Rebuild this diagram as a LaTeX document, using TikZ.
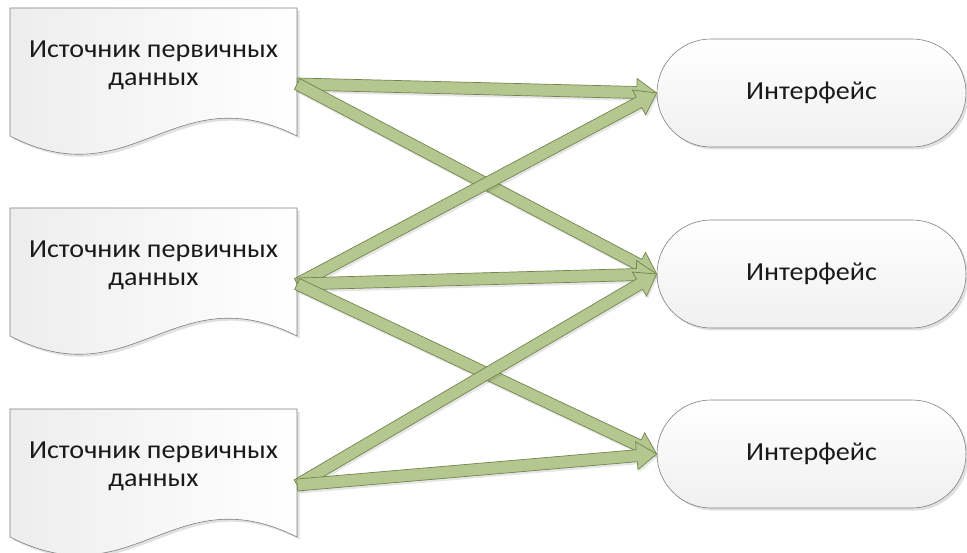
\documentclass[tikz,border=0pt]{standalone}
\usepackage{fontspec}
\setmainfont{Carlito}[FakeStretch=1.08]
\usetikzlibrary{calc,shapes.misc,shadows}

\definecolor{arrowfill}{HTML}{B4C78E}
\definecolor{arrowline}{HTML}{74834F}
\definecolor{shapeline}{HTML}{7F7F7F}
\definecolor{inktext}{HTML}{1A1A1A}

% wide block arrow from #1 to #2: shaft half-width 6pt, head 20pt long, 14pt half-width
\newcommand\blockarrow[2]{%
  \coordinate (ba-n) at ($(#2)!20pt!(#1)$);
  \draw[flowarrow]
    ($(#1)!6pt!90:(#2)$) -- ($(ba-n)!6pt!90:(#2)$) -- ($(ba-n)!14pt!90:(#2)$)
    -- (#2)
    -- ($(ba-n)!14pt!-90:(#2)$) -- ($(ba-n)!6pt!-90:(#2)$) -- ($(#1)!6pt!-90:(#2)$)
    -- cycle;
}

\begin{document}
\begin{tikzpicture}[x=1pt,y=-1pt,
  softshadow/.style={drop shadow={shadow xshift=2.5pt,shadow yshift=-2.5pt,opacity=0.12,fill=black}},
  docshape/.style={draw=shapeline,line width=0.6pt,left color=black!7,right color=white,softshadow},
  docnode/.style={rectangle,minimum width=287pt,minimum height=152pt,inner sep=0pt},
  doctext/.style={align=center,inner sep=0pt,text=inktext,font=\fontsize{26}{28}\selectfont},
  term/.style={rounded rectangle,draw=shapeline,line width=0.6pt,top color=white,bottom color=black!6,
    minimum width=309pt,minimum height=108pt,inner sep=0pt,text=inktext,
    font=\fontsize{26}{28}\selectfont,softshadow},
  flowarrow/.style={draw=arrowline,line width=0.7pt,fill=arrowfill,line join=miter,
    drop shadow={shadow xshift=1.5pt,shadow yshift=-2.5pt,opacity=0.10,fill=black}}
]
\useasboundingbox (0,0) rectangle (967,553);

% source documents with a wavy bottom edge
\foreach \i/\y in {1/84,2/284,3/485}{
  \begin{scope}[shift={(153.5,\y)}]
    \path[docshape] (-143.5,-76) -- (143.5,-76) -- (143.5,52)
      .. controls (20,-10) and (-20,115) .. (-143.5,52) -- cycle;
    \node[docnode] (d\i) at (0,0) {};
    \node[doctext] (d\i-label) at (0,-19) {Источник первичных\\данных};
  \end{scope}
}

% interface terminators
\node[term] (t1) at (811.5,93)  {Интерфейс};
\node[term] (t2) at (811.5,274) {Интерфейс};
\node[term] (t3) at (811.5,454) {Интерфейс};

% data flows
\blockarrow{d1.east}{t1.west}
\blockarrow{d1.east}{t2.west}
\blockarrow{d2.east}{t1.west}
\blockarrow{d2.east}{t2.west}
\blockarrow{d2.east}{t3.west}
\blockarrow{d3.east}{t2.west}
\blockarrow{d3.east}{t3.west}
\end{tikzpicture}
\end{document}
